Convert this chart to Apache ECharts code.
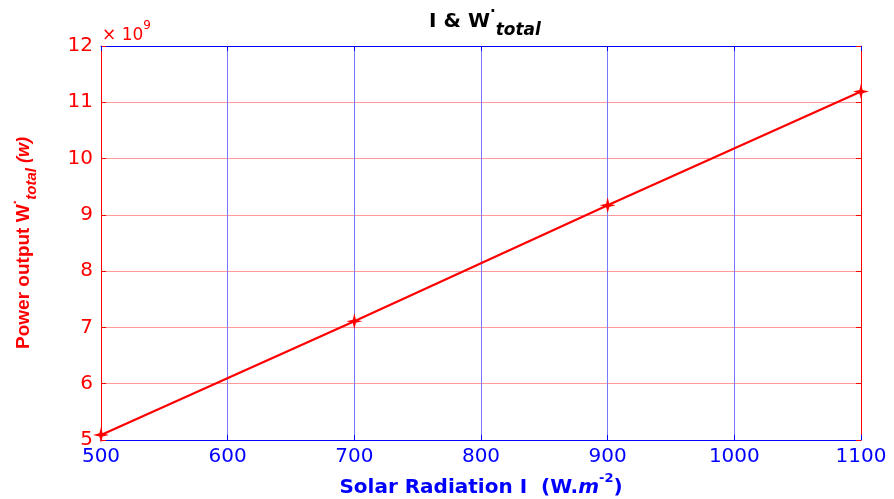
<!DOCTYPE html>
<html>
<head>
<meta charset="utf-8">
<script src="https://cdn.jsdelivr.net/npm/echarts@6/dist/echarts.min.js"></script>
<style>
  html, body { margin: 0; padding: 0; background: #fff; }
  #chart { width: 894px; height: 499px; }
</style>
</head>
<body>
<div id="chart"></div>
<script>
// solar radiation (W/m^2) and total power output (x 1e9 W)
const radiation = [500, 700, 900, 1100];
const powerOutput = [5.09, 7.11, 9.17, 11.19];

const chart = echarts.init(document.getElementById("chart"));
const font = "DejaVu Sans, sans-serif";
const narrow = "Liberation Sans, Arial, sans-serif";
const star = "path://M5,0 L6,4 L10,5 L6,6 L5,10 L4,6 L0,5 L4,4 Z";

const option = {
  animation: false,
  backgroundColor: "#fff",
  grid: { left: 101, right: 33, top: 46, bottom: 59, outerBoundsMode: "none", containLabel: false },
  title: {
    text: "{a|I & W}{dot|·}{sub|total}",
    left: 480,
    top: 0,
    textAlign: "center",
    textStyle: {
      rich: {
        a: { fontFamily: font, fontWeight: "bold", fontSize: 20, color: "#000", lineHeight: 34, verticalAlign: "middle" },
        dot: { fontFamily: font, fontWeight: "bold", fontSize: 15, color: "#000", verticalAlign: "top", lineHeight: 34 },
        sub: { fontFamily: font, fontWeight: "bold", fontStyle: "italic", fontSize: 17, color: "#000", verticalAlign: "bottom", lineHeight: 34 }
      }
    }
  },
  graphic: [{
    type: "text",
    left: 102,
    top: 20,
    style: {
      text: "{a|× 10}{b|9}",
      rich: {
        a: { fontFamily: font, fontSize: 17, fill: "#ff0000", verticalAlign: "bottom", lineHeight: 24 },
        b: { fontFamily: font, fontSize: 12, fill: "#ff0000", verticalAlign: "top", lineHeight: 24 }
      }
    }
  }],
  xAxis: [{
    type: "value",
    min: 500, max: 1100, interval: 100,
    position: "bottom",
    name: "{a|Solar Radiation I  (W.}{m|m}{s|-2}{a|)}",
    nameLocation: "middle",
    nameGap: 32,
    nameTextStyle: {
      rich: {
        a: { fontFamily: font, fontWeight: "bold", fontSize: 20, color: "#0000ff", lineHeight: 26, verticalAlign: "bottom" },
        m: { fontFamily: font, fontWeight: "bold", fontStyle: "italic", fontSize: 20, color: "#0000ff", lineHeight: 26, verticalAlign: "bottom" },
        s: { fontFamily: font, fontWeight: "bold", fontSize: 13, color: "#0000ff", lineHeight: 26, verticalAlign: "top" }
      }
    },
    axisLine: { lineStyle: { color: "#0000ff", width: 1 } },
    axisTick: { inside: true, length: 5, lineStyle: { color: "#0000ff" } },
    axisLabel: { color: "#0000ff", fontFamily: font, fontSize: 20, margin: 7, formatter: v => String(v) },
    splitLine: { show: true, lineStyle: { color: "#7777ff", width: 1 } }
  }, {
    type: "value",
    min: 500, max: 1100, interval: 100,
    position: "top",
    axisLine: { show: true, lineStyle: { color: "#0000ff", width: 1 } },
    axisTick: { show: true, inside: true, length: 5, lineStyle: { color: "#0000ff" } },
    axisLabel: { show: false },
    splitLine: { show: false }
  }],
  yAxis: [{
    type: "value",
    min: 5, max: 12, interval: 1,
    position: "left",
    name: "{a|Power output W}{dot|·}{sub|total}{b| (w)}",
    nameLocation: "middle",
    nameRotate: 90,
    nameGap: 62,
    nameTextStyle: {
      rich: {
        a: { fontFamily: narrow, fontWeight: "bold", fontSize: 19, color: "#ff0000", lineHeight: 30, verticalAlign: "middle" },
        dot: { fontFamily: narrow, fontWeight: "bold", fontSize: 14, color: "#ff0000", lineHeight: 30, verticalAlign: "top" },
        sub: { fontFamily: narrow, fontWeight: "bold", fontStyle: "italic", fontSize: 15, color: "#ff0000", lineHeight: 30, verticalAlign: "bottom" },
        b: { fontFamily: narrow, fontWeight: "bold", fontStyle: "italic", fontSize: 18, color: "#ff0000", lineHeight: 30, verticalAlign: "middle" }
      }
    },
    axisLine: { show: true, lineStyle: { color: "#ff0000", width: 1 } },
    axisTick: { show: true, inside: true, length: 5, lineStyle: { color: "#ff0000" } },
    axisLabel: { color: "#ff0000", fontFamily: font, fontSize: 20, margin: 8 },
    splitLine: { show: true, lineStyle: { color: "#ff9a9a", width: 1 } }
  }, {
    type: "value",
    min: 5, max: 12, interval: 1,
    position: "right",
    axisLine: { show: true, lineStyle: { color: "#ff0000", width: 1 } },
    axisTick: { show: true, inside: true, length: 5, lineStyle: { color: "#ff0000" } },
    axisLabel: { show: false },
    splitLine: { show: false }
  }],
  series: [{
    type: "line",
    xAxisIndex: 0,
    yAxisIndex: 0,
    data: radiation.map((x, i) => [x, powerOutput[i]]),
    lineStyle: { color: "#ff0000", width: 2.2 },
    itemStyle: { color: "#ff0000" },
    symbol: star,
    symbolSize: 16,
    showSymbol: true,
    clip: false
  }]
};

chart.setOption(option);
</script>
</body>
</html>
